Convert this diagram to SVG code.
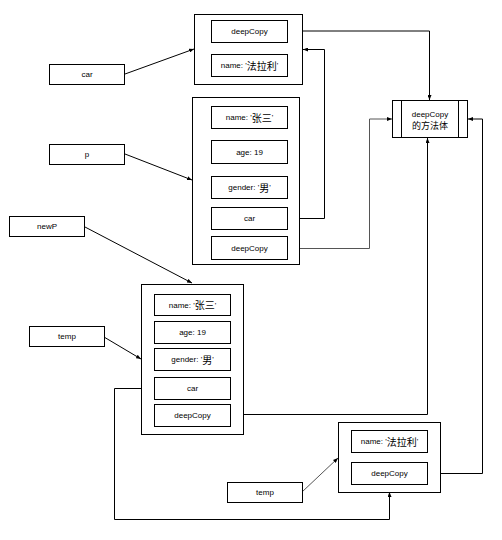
<svg xmlns="http://www.w3.org/2000/svg" width="502" height="540" viewBox="0 0 502 540">
<defs>
<marker id="ah" markerWidth="5" markerHeight="4" refX="5" refY="2" orient="auto" markerUnits="userSpaceOnUse">
<path d="M0,0 L5,2 L0,4 z" fill="#000"/>
</marker>
<style>
.b{fill:#fff;stroke:#000;stroke-width:1}
.c{fill:none;stroke:#000;stroke-width:1}
.g{fill:none;stroke:#555;stroke-width:1}
.t{font-family:"Liberation Sans","Noto Sans CJK SC",sans-serif;font-size:8px;fill:#000;text-anchor:middle;dominant-baseline:central}
.k{font-size:10px}
</style>
</defs>
<rect width="502" height="540" fill="#fff"/>
<g id="connectors">
<path class="c" d="M125,74 L194,49" marker-end="url(#ah)"/>
<path class="c" d="M125,154 L192,180" marker-end="url(#ah)"/>
<path class="c" d="M85,227 L192,283" marker-end="url(#ah)"/>
<path class="c" d="M104,337 L141,359" marker-end="url(#ah)"/>
<path class="g" d="M302,492 L338,458" marker-end="url(#ah)"/>
<path class="c" d="M287,31 H429.5 V100" marker-end="url(#ah)"/>
<path class="c" d="M287,218.5 H324.5 V49.5 H303" marker-end="url(#ah)"/>
<path class="g" d="M287,248.5 H369.5 V119 H392" marker-end="url(#ah)"/>
<path class="c" d="M230,414.5 H427.5 V138" marker-end="url(#ah)"/>
<path class="c" d="M428,473.5 H482.5 V119 H468" marker-end="url(#ah)"/>
<path class="c" d="M154,388.5 H114.5 V519.5 H389.5 V492" marker-end="url(#ah)"/>
</g>
<g id="car-label"><rect class="b" x="49.5" y="64.5" width="75" height="20"/><text class="t" x="87" y="74.5">car</text></g>
<g id="p-label"><rect class="b" x="49.5" y="144.5" width="75" height="20"/><text class="t" x="87" y="154.5">p</text></g>
<g id="newP-label"><rect class="b" x="9.5" y="216.5" width="75" height="20"/><text class="t" x="47" y="226.5">newP</text></g>
<g id="temp-label"><rect class="b" x="29.5" y="326.5" width="75" height="20"/><text class="t" x="67" y="336.5">temp</text></g>
<g id="temp2-label"><rect class="b" x="227.5" y="482.5" width="75" height="20"/><text class="t" x="265" y="492.5">temp</text></g>
<g id="car-obj">
<rect class="b" x="194.5" y="14.5" width="108" height="70"/>
<rect class="b" x="211.5" y="20.5" width="76" height="22"/><text class="t" x="249.5" y="31.5">deepCopy</text>
<rect class="b" x="211.5" y="54.5" width="76" height="22"/><text class="t" x="249.5" y="65.5">name: '<tspan class="k">法拉利</tspan>'</text>
</g>
<g id="p-obj">
<rect class="b" x="192.5" y="97.5" width="107" height="167"/>
<rect class="b" x="211.5" y="106.5" width="76" height="22"/><text class="t" x="249.5" y="117.5">name: '<tspan class="k">张三</tspan>'</text>
<rect class="b" x="211.5" y="140.5" width="76" height="23"/><text class="t" x="249.5" y="152">age: 19</text>
<rect class="b" x="211.5" y="176.5" width="76" height="22"/><text class="t" x="249.5" y="187.5">gender: '<tspan class="k">男</tspan>'</text>
<rect class="b" x="211.5" y="207.5" width="76" height="22"/><text class="t" x="249.5" y="218.5">car</text>
<rect class="b" x="211.5" y="236.5" width="76" height="23"/><text class="t" x="249.5" y="248">deepCopy</text>
</g>
<g id="newP-obj">
<rect class="b" x="141.5" y="284.5" width="102" height="150"/>
<rect class="b" x="154.5" y="294.5" width="76" height="21"/><text class="t" x="192.5" y="305">name: '<tspan class="k">张三</tspan>'</text>
<rect class="b" x="154.5" y="321.5" width="76" height="22"/><text class="t" x="192.5" y="332.5">age: 19</text>
<rect class="b" x="154.5" y="348.5" width="76" height="22"/><text class="t" x="192.5" y="359.5">gender: '<tspan class="k">男</tspan>'</text>
<rect class="b" x="154.5" y="377.5" width="76" height="22"/><text class="t" x="192.5" y="388.5">car</text>
<rect class="b" x="154.5" y="404.5" width="76" height="22"/><text class="t" x="192.5" y="415.5">deepCopy</text>
</g>
<g id="car2-obj">
<rect class="b" x="338.5" y="422.5" width="102" height="70"/>
<rect class="b" x="351.5" y="430.5" width="76" height="22"/><text class="t" x="389.5" y="441.5">name: '<tspan class="k">法拉利</tspan>'</text>
<rect class="b" x="351.5" y="462.5" width="76" height="22"/><text class="t" x="389.5" y="473.5">deepCopy</text>
</g>
<g id="method">
<rect class="b" x="392.5" y="100.5" width="75" height="37"/>
<path class="c" d="M401.5,100.5 V137.5 M458.5,100.5 V137.5"/>
<text class="t" x="430" y="114">deepCopy</text>
<text class="t" x="430" y="125.5" style="font-size:9px">的方法体</text>
</g>
</svg>
